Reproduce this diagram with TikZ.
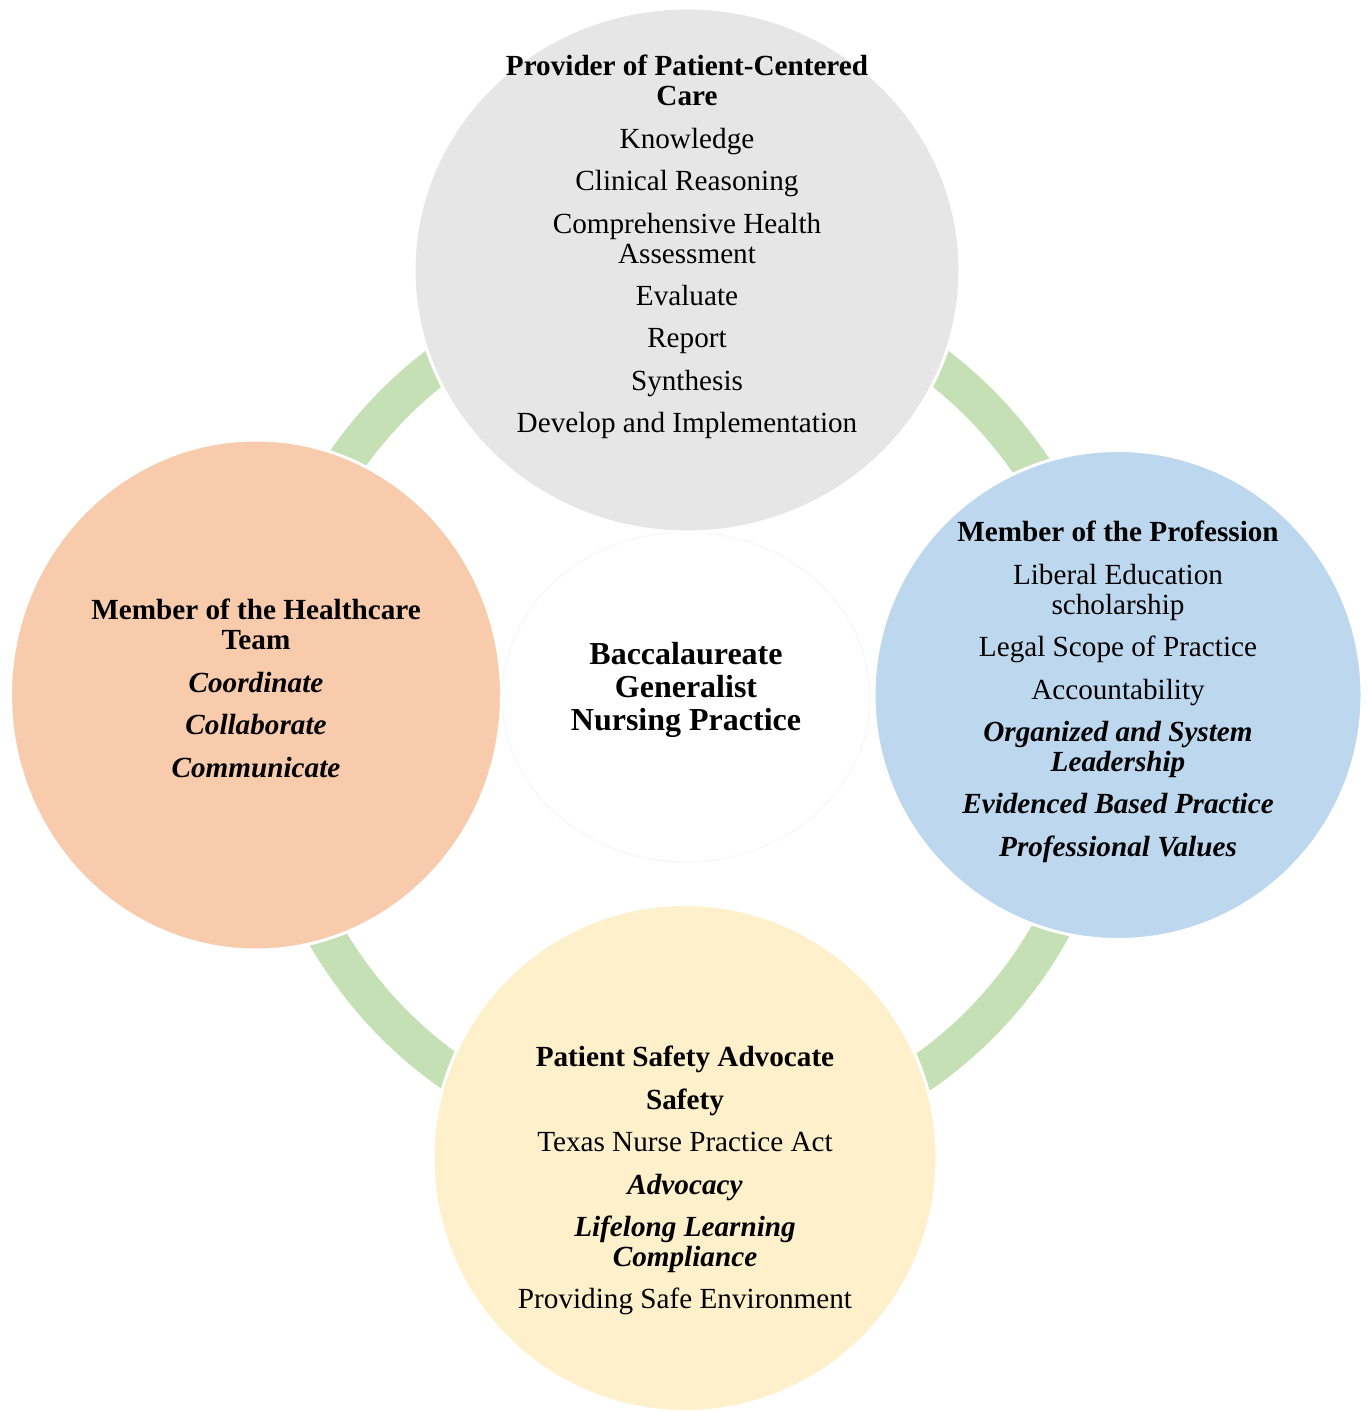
\documentclass[tikz,border=0pt]{standalone}
\usepackage{fontspec}
\setmainfont{Liberation Serif}
\usetikzlibrary{shapes.geometric}
\definecolor{ringgreen}{HTML}{C5E0B4}
\definecolor{caregray}{HTML}{E6E6E6}
\definecolor{teamorange}{HTML}{F8CBAD}
\definecolor{profblue}{HTML}{BDD7EE}
\definecolor{safeyellow}{HTML}{FFF0CC}

\begin{document}
\begin{tikzpicture}[x=0.5pt, y=-0.5pt,
  disc/.style={ellipse, draw=white, line width=1.5pt, inner sep=0pt},
  txt/.style={align=center, inner sep=0pt, anchor=north, font=\fontsize{14.6}{15}\selectfont},
  ring/.style={ringgreen, line width=19pt}]
\useasboundingbox (0,0) rectangle (1367,1412);
% green cycle behind the four roles
\coordinate (ringc) at (687,714);
\draw[ring] (ringc) ellipse [x radius=210pt, y radius=216.5pt];
\node[disc, draw=black!3, line width=0.6pt, fill=white, minimum width=184pt, minimum height=165pt] (hub) at (686,697) {};
% role circles
\node[disc, fill=caregray, minimum width=273pt, minimum height=262pt] (care) at (687,270) {};
\node[disc, fill=teamorange, minimum width=245.5pt, minimum height=255pt] (team) at (256,695) {};
\node[disc, fill=profblue, minimum width=244pt, minimum height=244.5pt] (prof) at (1118,695) {};
\node[disc, fill=safeyellow, minimum width=252pt, minimum height=253.5pt] (safe) at (685,1158) {};
% texts
\node[txt, anchor=center, font=\fontsize{16}{16.5}\selectfont\bfseries] (hubtxt) at (686,690) {Baccalaureate\\Generalist\\Nursing Practice};
\node[txt] (caretxt) at (687,55) {\textbf{Provider of Patient-Centered}\\\textbf{Care}\\[6.2pt]
  Knowledge\\[6.2pt] Clinical Reasoning\\[6.2pt] Comprehensive Health\\Assessment\\[6.2pt]
  Evaluate\\[6.2pt] Report\\[6.2pt] Synthesis\\[6.2pt] Develop and Implementation};
\node[txt] (teamtxt) at (256,599) {\textbf{Member of the Healthcare}\\\textbf{Team}\\[6.2pt]
  \textbf{\textit{Coordinate}}\\[6.2pt] \textbf{\textit{Collaborate}}\\[6.2pt] \textbf{\textit{Communicate}}};
\node[txt] (proftxt) at (1118,521) {\textbf{Member of the Profession}\\[6.2pt]
  Liberal Education\\scholarship\\[6.2pt] Legal Scope of Practice\\[6.2pt] Accountability\\[6.2pt]
  \textbf{\textit{Organized and System}}\\\textbf{\textit{Leadership}}\\[6.2pt]
  \textbf{\textit{Evidenced Based Practice}}\\[6.2pt] \textbf{\textit{Professional Values}}};
\node[txt] (safetxt) at (685,1046) {\textbf{Patient Safety Advocate}\\[6.2pt] \textbf{Safety}\\[6.2pt]
  Texas Nurse Practice Act\\[6.2pt] \textbf{\textit{Advocacy}}\\[6.2pt]
  \textbf{\textit{Lifelong Learning}}\\\textbf{\textit{Compliance}}\\[6.2pt] Providing Safe Environment};
\end{tikzpicture}
\end{document}
